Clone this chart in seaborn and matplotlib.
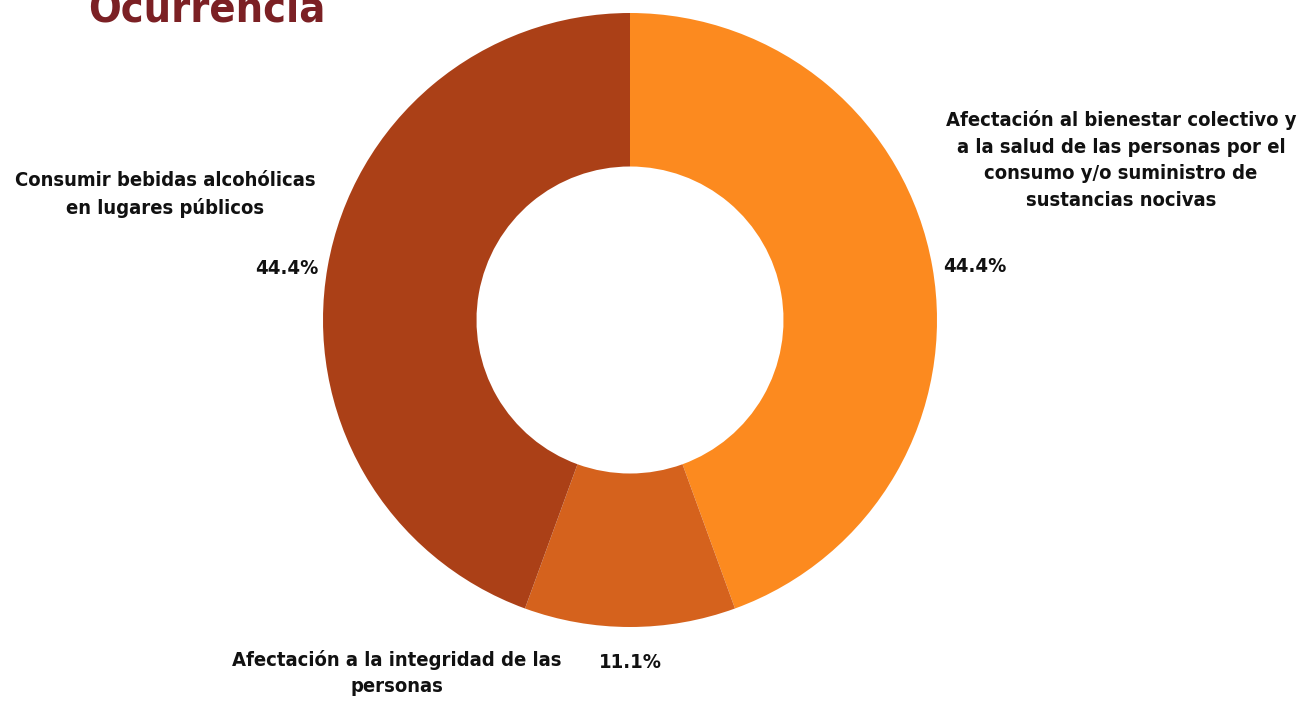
import numpy as np
import pandas as pd
import matplotlib
matplotlib.use("Agg")
import matplotlib.pyplot as plt
import seaborn as sns

categorias = ['Afectación al bienestar colectivo y\na la salud de las personas por el\nconsumo y/o suministro de\nsustancias nocivas',
              'Afectación a la integridad de las\npersonas',
              'Consumir bebidas alcohólicas\nen lugares públicos']
porcentajes = [44.4, 11.1, 44.4]
colores = ['#FC8A1F', '#D5621D', '#AB4017']

sns.set_theme(style='white')
plt.rcParams['font.family'] = ['DejaVu Sans']
plt.rcParams['font.stretch'] = 'condensed'

W, H = 1304, 704
fig = plt.figure(figsize=(W / 100, H / 100), dpi=100)
ax = fig.add_axes([0, 0, 1, 1])

cx, cy, r = 630, H - 320, 307
ax.pie(porcentajes, colors=sns.color_palette(colores), startangle=90, counterclock=False,
       center=(cx, cy), radius=r, wedgeprops=dict(width=r * 0.5, linewidth=0), frame=True)
ax.set_xlim(0, W)
ax.set_ylim(0, H)
ax.set_aspect('equal')
ax.axis('off')

txt = dict(fontsize=14.5, fontweight='bold', fontstretch='condensed', color='#111111')
# etiquetas de categoria
ax.text(1121, H - 160, categorias[0], ha='center', va='center', linespacing=1.5, **txt)
ax.text(397, H - 673, categorias[1], ha='center', va='center', linespacing=1.4, **txt)
ax.text(165, H - 194, categorias[2], ha='center', va='center', linespacing=1.5, **txt)
# porcentajes
ax.text(943, H - 266, f'{porcentajes[0]:.1f}%', ha='left', va='center', **txt)
ax.text(630, H - 662, f'{porcentajes[1]:.1f}%', ha='center', va='center', **txt)
ax.text(318, H - 268, f'{porcentajes[2]:.1f}%', ha='right', va='center', **txt)

fig.text(88 / W, 1 - 22 / H, 'Ocurrencia', ha='left', va='baseline', fontsize=31,
         fontweight='bold', fontstretch='condensed', color='#7B2024')

fig.savefig('out.png', dpi=100)
